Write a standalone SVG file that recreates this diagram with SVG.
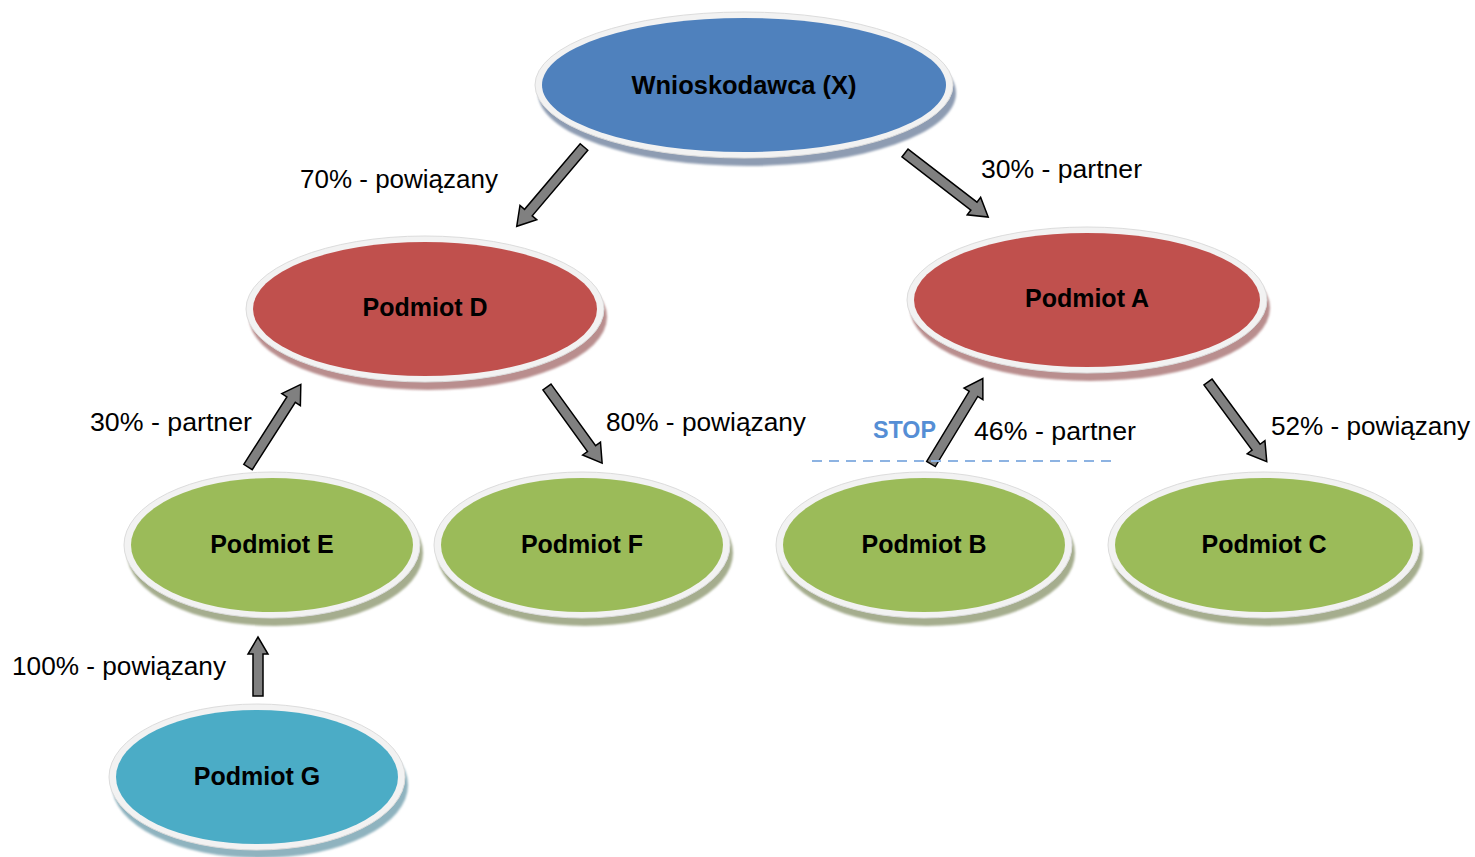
<svg xmlns="http://www.w3.org/2000/svg" width="1475" height="857" viewBox="0 0 1475 857">
<defs>
<filter id="blur" x="-10%" y="-10%" width="120%" height="130%"><feGaussianBlur stdDeviation="1.2"/></filter>
</defs>
<style>
.rim{fill:#f2f2f2;stroke:#dcdcdc;stroke-width:1}
.sh{filter:url(#blur)}
.lbl{font-family:"Liberation Sans",Arial,sans-serif;font-size:25px;fill:#000}
.nl{font-family:"Liberation Sans",Arial,sans-serif;font-size:25px;font-weight:bold;fill:#000;text-anchor:middle}
.arr{fill:#808080;stroke:#000;stroke-width:1.5;stroke-linejoin:miter}
</style>
<rect width="1475" height="857" fill="#fff"/>

<g id="node-X">
<ellipse class="sh" cx="747" cy="93" rx="209" ry="73" fill="#8e9cb2"/>
<ellipse class="rim" cx="744" cy="85" rx="209" ry="73"/>
<ellipse cx="744" cy="85" rx="202" ry="67" fill="#4f81bd"/>
<text class="nl" x="744" y="94" textLength="225" lengthAdjust="spacingAndGlyphs">Wnioskodawca (X)</text>
</g>

<g id="node-D">
<ellipse class="sh" cx="428" cy="317" rx="179" ry="73" fill="#b98e8e"/>
<ellipse class="rim" cx="425" cy="309" rx="179" ry="73"/>
<ellipse cx="425" cy="309" rx="172" ry="67" fill="#c0504d"/>
<text class="nl" x="425" y="316">Podmiot D</text>
</g>

<g id="node-A">
<ellipse class="sh" cx="1090" cy="308" rx="180" ry="73" fill="#b98e8e"/>
<ellipse class="rim" cx="1087" cy="300" rx="180" ry="73"/>
<ellipse cx="1087" cy="300" rx="173" ry="67" fill="#c0504d"/>
<text class="nl" x="1087" y="307">Podmiot A</text>
</g>

<g id="node-E">
<ellipse class="sh" cx="275" cy="553" rx="148" ry="73" fill="#a5ad8e"/>
<ellipse class="rim" cx="272" cy="545" rx="148" ry="73"/>
<ellipse cx="272" cy="545" rx="141" ry="67" fill="#9bbb59"/>
<text class="nl" x="272" y="553">Podmiot E</text>
</g>

<g id="node-F">
<ellipse class="sh" cx="585" cy="553" rx="148" ry="73" fill="#a5ad8e"/>
<ellipse class="rim" cx="582" cy="545" rx="148" ry="73"/>
<ellipse cx="582" cy="545" rx="141" ry="67" fill="#9bbb59"/>
<text class="nl" x="582" y="553">Podmiot F</text>
</g>

<g id="node-B">
<ellipse class="sh" cx="927" cy="553" rx="148" ry="73" fill="#a5ad8e"/>
<ellipse class="rim" cx="924" cy="545" rx="148" ry="73"/>
<ellipse cx="924" cy="545" rx="141" ry="67" fill="#9bbb59"/>
<text class="nl" x="924" y="553">Podmiot B</text>
</g>

<g id="node-C">
<ellipse class="sh" cx="1267" cy="553" rx="156" ry="73" fill="#a5ad8e"/>
<ellipse class="rim" cx="1264" cy="545" rx="156" ry="73"/>
<ellipse cx="1264" cy="545" rx="149" ry="67" fill="#9bbb59"/>
<text class="nl" x="1264" y="553">Podmiot C</text>
</g>

<g id="node-G">
<ellipse class="sh" cx="260" cy="785" rx="148" ry="73" fill="#8fb3bf"/>
<ellipse class="rim" cx="257" cy="777" rx="148" ry="73"/>
<ellipse cx="257" cy="777" rx="141" ry="67" fill="#4bacc6"/>
<text class="nl" x="257" y="785">Podmiot G</text>
</g>

<g id="connectors">
<path class="arr" transform="translate(584,147) rotate(130.3)" d="M0,-5 H86 V-11 L104,0 L86,11 V5 H0 Z"/>
<path class="arr" transform="translate(905,153) rotate(37.6)" d="M0,-5 H87 V-11 L105,0 L87,11 V5 H0 Z"/>
<path class="arr" transform="translate(248,467) rotate(-57.4)" d="M0,-5 H80 V-11 L98,0 L80,11 V5 H0 Z"/>
<path class="arr" transform="translate(547,387) rotate(54.1)" d="M0,-5 H76 V-11 L94,0 L76,11 V5 H0 Z"/>
<path class="arr" transform="translate(931,464) rotate(-58.8)" d="M0,-5 H82 V-11 L100,0 L82,11 V5 H0 Z"/>
<path class="arr" transform="translate(1208,382) rotate(53.6)" d="M0,-5 H81 V-11 L99,0 L81,11 V5 H0 Z"/>
<path class="arr" transform="translate(258,696) rotate(-90)" d="M0,-5 H42 V-10 L59,0 L42,10 V5 H0 Z"/>
<line x1="812" y1="461" x2="1112" y2="461" stroke="#8db3e2" stroke-width="2" stroke-dasharray="10,7"/>
</g>

<g id="labels">
<text class="lbl" x="300" y="188" textLength="198" lengthAdjust="spacingAndGlyphs">70% - powiązany</text>
<text class="lbl" x="981" y="178" textLength="161" lengthAdjust="spacingAndGlyphs">30% - partner</text>
<text class="lbl" x="90" y="431" textLength="162" lengthAdjust="spacingAndGlyphs">30% - partner</text>
<text class="lbl" x="606" y="431" textLength="200" lengthAdjust="spacingAndGlyphs">80% - powiązany</text>
<text x="873" y="438" font-family="Liberation Sans,Arial,sans-serif" font-size="24" font-weight="bold" fill="#558ed5" textLength="63" lengthAdjust="spacingAndGlyphs">STOP</text>
<text class="lbl" x="974" y="440" textLength="162" lengthAdjust="spacingAndGlyphs">46% - partner</text>
<text class="lbl" x="1271" y="435" textLength="199" lengthAdjust="spacingAndGlyphs">52% - powiązany</text>
<text class="lbl" x="12" y="675" textLength="214" lengthAdjust="spacingAndGlyphs">100% - powiązany</text>
</g>
</svg>
